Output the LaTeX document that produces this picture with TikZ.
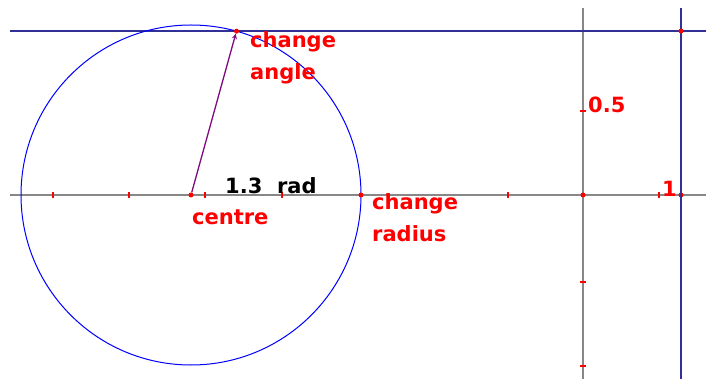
\documentclass[tikz,border=0pt]{standalone}
\usepackage{fontspec}
\setmainfont{DejaVu Sans}
\usepackage{xcolor}
\usetikzlibrary{calc, positioning}

\definecolor{navyline}{RGB}{48,48,150}
\definecolor{axisgray}{RGB}{135,135,135}
\definecolor{radiuspurple}{RGB}{128,10,128}

\tikzset{
    axisline/.style={axisgray, line width=1.5pt},
    guideline/.style={navyline, line width=2pt},
    tickmark/.style={red, line width=1.6pt},
    ptdot/.style={circle, fill=red, inner sep=0pt, minimum size=5pt},
    lbl/.style={red, font=\fontsize{21}{32}\selectfont\bfseries, inner sep=0pt, align=left}
}

\begin{document}
\begin{tikzpicture}[x=1pt, y=-1pt, >=stealth]
    \useasboundingbox (0,0) rectangle (706,379);

    % coordinates
    \coordinate (AxL) at (10,195);
    \coordinate (AxR) at (706,195);
    \coordinate (AxT) at (583,8);
    \coordinate (AxB) at (583,379);
    \coordinate (HL) at (10,31);
    \coordinate (HR) at (706,31);
    \coordinate (VT) at (681,8);
    \coordinate (VB) at (681,379);

    % axes and guide lines
    \draw[axisline] (AxL) -- (AxR);
    \draw[axisline] (AxT) -- (AxB);
    \draw[guideline] (HL) -- (HR);
    \draw[guideline] (VT) -- (VB);

    % ticks
    \foreach \x in {53,129,205,282,508,659}
        \draw[tickmark] (\x,192) -- (\x,198);
    \foreach \y in {111,282,366}
        \draw[tickmark] (580,\y) -- (586,\y);

    % circle
    \draw[blue, line width=1pt] (191,195) circle (170pt);

    % points
    \node[ptdot] (centre) at (191,195) {};
    \node[ptdot] (radius) at (361,195) {};
    \node[ptdot] (angle) at ($(191,195)+({170*cos(74.48)},{-170*sin(74.48)})$) {};
    \node[ptdot] (origin) at (583,195) {};
    \node[ptdot] (unitx) at (681,195) {};
    \node[ptdot] (unity) at (681,31) {};
    \draw[navyline, line width=2pt] (unitx.north) -- (unitx.south);

    % radius vector
    \draw[->, radiuspurple, line width=1.3pt] (centre) -- (angle);

    % labels
    \node[lbl, anchor=base west] (centrelbl) at (192,225) {centre};
    \node[lbl, black, anchor=base west] (anglelbl) at (225,194) {1.3\ \ rad};
    \node[lbl, anchor=north west] (radiustxt) at (372,193) {change\\radius};
    \node[lbl, anchor=north west] (angletxt) at (250,31) {change\\angle};
    \node[lbl, anchor=base west] (halflbl) at (588,113) {0.5};
    \node[lbl, anchor=base west] (onelbl) at (662,197) {1};

\end{tikzpicture}
\end{document}
